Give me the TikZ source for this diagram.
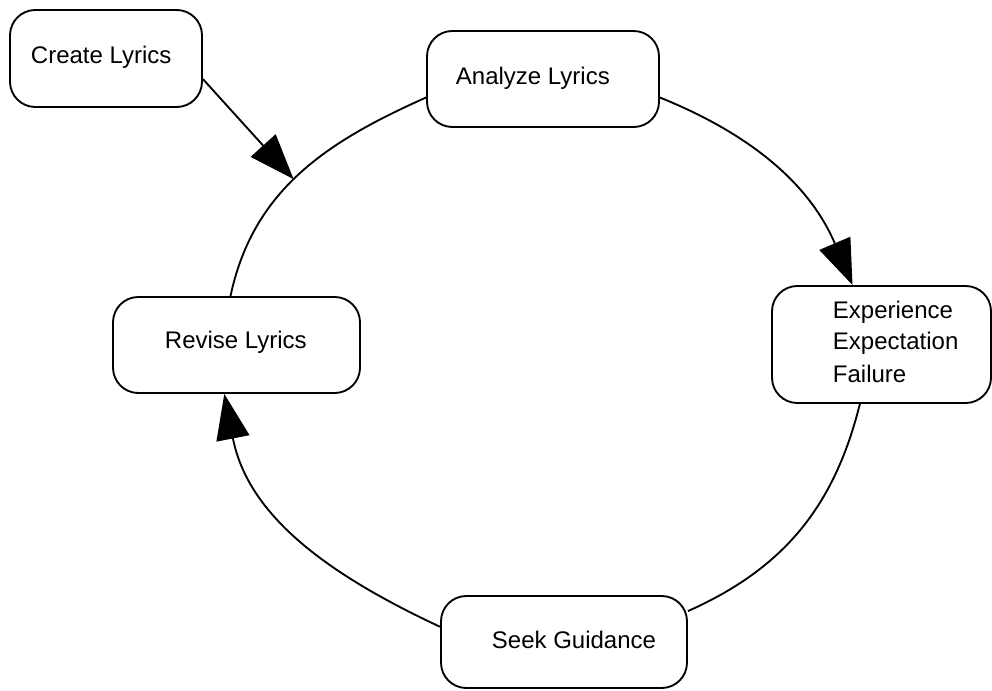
\documentclass[tikz,border=0pt]{standalone}
\usepackage{fontspec}
\setmainfont{Liberation Sans}
\usetikzlibrary{arrows.meta}

\begin{document}
\begin{tikzpicture}[x=0.75pt, y=0.75pt, line width=1.4pt,
  stagebox/.style={draw, rounded corners=19pt, inner sep=0pt},
  stagetext/.style={anchor=base west, inner sep=0pt, align=left, font=\fontsize{18}{24}\selectfont},
  flow/.style={-{Triangle[length=34pt,width=25pt]}}]
\useasboundingbox (0,0) rectangle (992,690);

\node[stagebox, minimum width=144pt, minimum height=72.75pt] (create) at (106,631.5) {};
\node[stagetext] (createtext) at (30,626) {Create Lyrics};

\node[stagebox, minimum width=174pt, minimum height=72pt] (analyze) at (543,611) {};
\node[stagetext] (analyzetext) at (455,605) {Analyze Lyrics};

\node[stagebox, minimum width=164.25pt, minimum height=87.75pt] (experience) at (881.5,345.5) {};
\node[stagetext] (experiencetext) at (832,308) {Experience\\Expectation\\Failure};

\node[stagebox, minimum width=184.5pt, minimum height=69pt] (seek) at (564,48) {};
\node[stagetext] (seektext) at (491,42) {Seek Guidance};

\node[stagebox, minimum width=185.25pt, minimum height=72pt] (revise) at (236.5,345) {};
\node[stagetext] (revisetext) at (164,342) {Revise Lyrics};

\draw[flow] (analyze.-9) to[out=-22, in=113] (experience.116);
\draw (experience.-110) to[out=-104, in=24] (seek.14);
\draw[flow] (seek.173) to[out=155, in=-79] (revise.-104);
\draw (revise.97) to[out=78, in=204] coordinate[pos=0.47] (hit) (analyze.189);

\draw[flow] (create.-12) -- (hit);
\end{tikzpicture}
\end{document}
